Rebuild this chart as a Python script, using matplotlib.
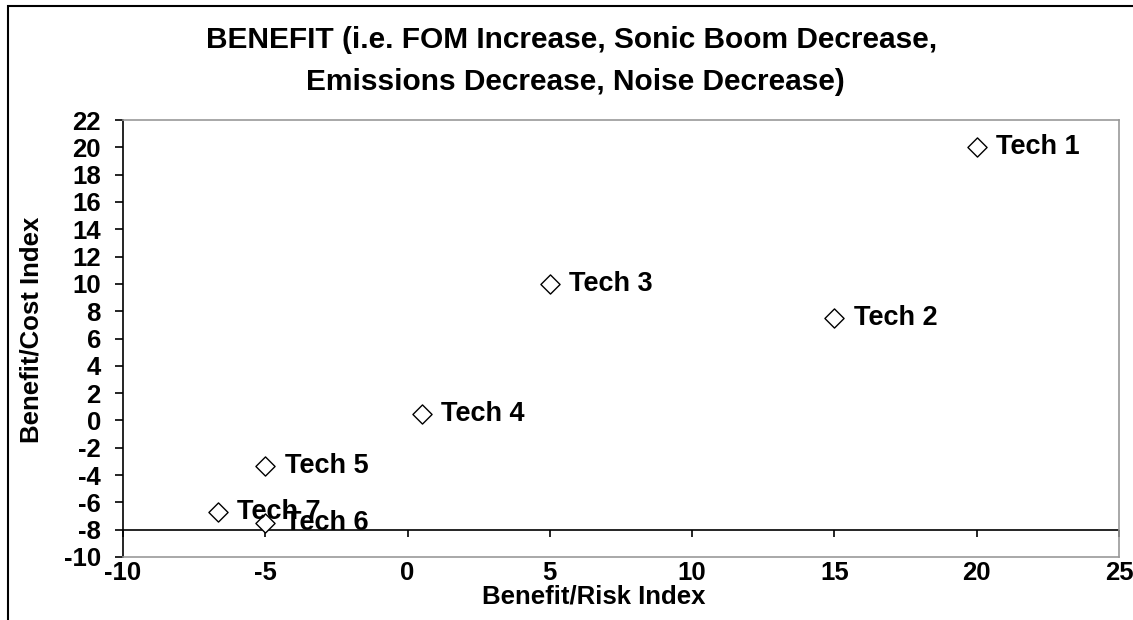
import numpy as np
import matplotlib.pyplot as plt
from matplotlib.patches import Rectangle

plt.rcParams['font.family'] = ['Liberation Sans', 'DejaVu Sans']
plt.rcParams['font.weight'] = 'bold'
plt.rcParams['axes.unicode_minus'] = False

# technology scores
techs = ['Tech 1', 'Tech 2', 'Tech 3', 'Tech 4', 'Tech 5', 'Tech 6', 'Tech 7']
risk_index = [20, 15, 5, 0.5, -5, -5, -6.67]
cost_index = [20, 7.5, 10, 0.5, -3.35, -7.5, -6.67]

xticks = np.arange(-10, 26, 5)
yticks = np.arange(-10, 23, 2)

fig = plt.figure(figsize=(11.33, 6.2), dpi=100)
ax = fig.add_axes([123 / 1133, 1 - 557 / 620, 996 / 1133, 437 / 620])

ax.scatter(risk_index, cost_index, marker='D', s=95, facecolors='white',
           edgecolors='black', linewidths=1.0, zorder=3)
for name, x, y in zip(techs, risk_index, cost_index):
    ax.annotate(name, (x, y), xytext=(14, 0), textcoords='offset points',
                fontsize=19.5, fontweight='bold', va='center', ha='left', zorder=4)

ax.set_xlim(-10, 25)
ax.set_ylim(-10, 22)
ax.set_xticks(xticks)
ax.set_yticks(yticks)
ax.tick_params(axis='both', labelsize=18.5)
ax.tick_params(axis='y', direction='out', length=6, width=1.2, pad=10)
ax.tick_params(axis='x', length=0, pad=3)

# x axis crosses at y = -8, ticks hang below it
ax.axhline(-8, color='black', lw=1.2, zorder=2)
ax.vlines(xticks, -8.5, -8, color='black', lw=1.2, zorder=2, clip_on=False)

for side in ['top', 'right', 'bottom']:
    ax.spines[side].set_color('#999999')
    ax.spines[side].set_linewidth(1.2)
ax.spines['left'].set_color('black')
ax.spines['left'].set_linewidth(1.2)

ax.set_xlabel('Benefit/Risk Index', fontsize=18.5, fontweight='bold')
ax.xaxis.set_label_coords((594 - 123) / 996, (557 - 585) / 437)
ax.set_ylabel('Benefit/Cost Index', fontsize=18.5, fontweight='bold')
ax.yaxis.set_label_coords((44 - 123) / 996, (557 - 330) / 437)

fig.text(572 / 1133, 1 - 40 / 620, 'BENEFIT (i.e. FOM Increase, Sonic Boom Decrease,',
         ha='center', va='center', fontsize=21.5, fontweight='bold')
fig.text(575 / 1133, 1 - 82 / 620, 'Emissions Decrease, Noise Decrease)',
         ha='center', va='center', fontsize=21.5, fontweight='bold')

# chart frame
fig.patches.append(Rectangle((8 / 1133, -0.1), 1.2, 1.1 - 6 / 620, transform=fig.transFigure,
                             fill=False, edgecolor='black', lw=1.5))

fig.savefig('out.png', dpi=100)
